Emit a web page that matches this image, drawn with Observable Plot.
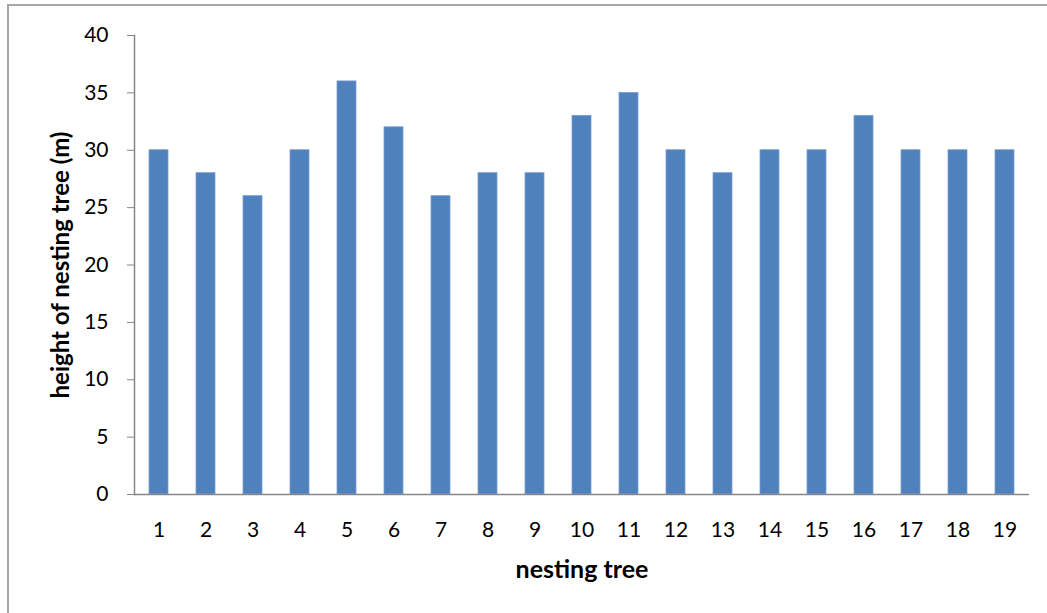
<!DOCTYPE html>
<html>
<head>
<meta charset="utf-8">
<script src="https://cdn.jsdelivr.net/npm/d3@7"></script>
<script src="https://cdn.jsdelivr.net/npm/@observablehq/plot@0.6"></script>
<style>
  html, body { margin: 0; padding: 0; background: #fff; }
  #wrap { position: relative; width: 1047px; height: 613px; overflow: hidden; }
  #border { position: absolute; left: 7px; top: 4px; width: 1100px; height: 700px;
            border-top: 2px solid #a6a6a6; border-left: 2px solid #a6a6a6; }
  #chart { position: absolute; left: 0; top: 0; }
</style>
</head>
<body>
<div id="wrap">
  <div id="border"></div>
  <div id="chart"></div>
</div>
<script>
// Height of each nesting tree, in metres
const trees = ["1","2","3","4","5","6","7","8","9","10","11","12","13","14","15","16","17","18","19"];
const heights = [30, 28, 26, 30, 36, 32, 26, 28, 28, 33, 35, 30, 28, 30, 30, 33, 30, 30, 30];
const yTicks = [0, 5, 10, 15, 20, 25, 30, 35, 40];
const xTitle = "nesting tree";
const yTitle = "height of nesting tree (m)";

const data = trees.map((t, i) => ({tree: t, height: heights[i]}));
const axisColor = "#868686";

const chart = Plot.plot({
  width: 1047,
  height: 613,
  marginLeft: 134,
  marginRight: 18,
  marginTop: 35,
  marginBottom: 119,
  style: {fontFamily: "Lato, 'Open Sans', sans-serif", fontSize: "21px", color: "#000", background: "transparent"},
  x: {domain: trees, paddingInner: 0.6, paddingOuter: 0.3},
  y: {domain: [0, 40]},
  marks: [
    Plot.barY(data, {x: "tree", y: "height", fill: "#4f81bd", stroke: "#7a9fd2", strokeWidth: 0.8}),
    Plot.frame({anchor: "left", stroke: axisColor, strokeWidth: 1.5}),
    Plot.ruleY([0], {stroke: axisColor, strokeWidth: 1.5}),
    Plot.axisY({ticks: yTicks, tickSize: 7, tickPadding: 19, label: null, stroke: axisColor, fill: "#000", fontSize: 21}),
    Plot.axisX({tickSize: 0, tickPadding: 28, label: null, fill: "#000", fontSize: 21}),
    Plot.text([yTitle], {frameAnchor: "left", textAnchor: "middle", lineAnchor: "middle", rotate: -90, dx: -73, fontWeight: "bold", fontSize: 24}),
    Plot.text([xTitle], {frameAnchor: "bottom", textAnchor: "middle", lineAnchor: "middle", dy: 75, fontWeight: "bold", fontSize: 25})
  ]
});
document.getElementById("chart").appendChild(chart);
</script>
</body>
</html>
